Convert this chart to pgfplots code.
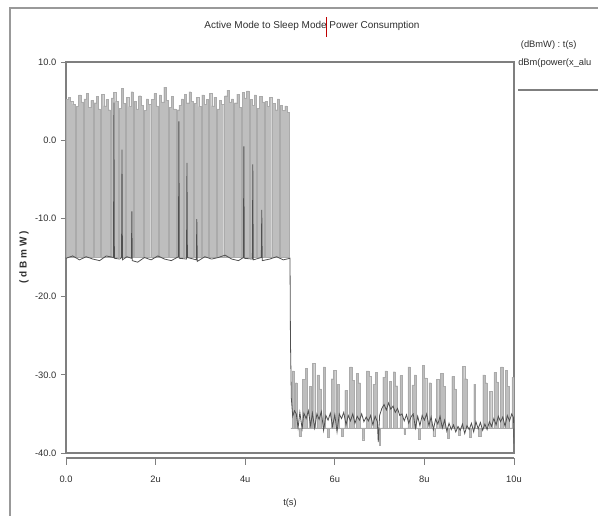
\documentclass[border=0pt]{standalone}
\usepackage{fontspec}
\setmainfont{Liberation Sans}
\usepackage{pgfplots}
\pgfplotsset{compat=1.18}
\definecolor{axgray}{HTML}{7F7F7F}
\definecolor{spike}{HTML}{BEBEBE}
\definecolor{spikeedge}{HTML}{ABABAB}
\definecolor{trace}{HTML}{505050}
\definecolor{txt}{HTML}{2E2E2E}

\begin{document}
\begin{tikzpicture}[font=\fontsize{7}{8}\selectfont, text=txt]
\useasboundingbox (-49.5pt,-47.25pt) rectangle (399pt,339.75pt);

% outer window frame
\draw[gray!80, line width=0.8pt] (-42pt,-47.25pt) -- (-42pt,333.75pt) -- (399pt,333.75pt);

\begin{axis}[
    scale only axis, width=336pt, height=293.25pt,
    at={(0pt,0pt)}, anchor=south west,
    xmin=0, xmax=10, ymin=-40, ymax=10,
    axis line style={axgray, line width=0.8pt},
    xtick=\empty,
    ytick={-40,-30,-20,-10,0,10},
    yticklabels={-40.0,-30.0,-20.0,-10.0,0.0,10.0},
    ytick pos=left, tick align=outside, major tick length=3.75pt,
    tick style={axgray, line width=0.6pt},
    yticklabel style={txt, font=\fontsize{7}{8}\selectfont},
]
% active mode: signal spikes
\addplot[const plot, draw=spikeedge, line width=0.15pt, fill=spike] coordinates {
(0,-15) (0.00,5.2)(0.05,5.5)(0.10,5.0)(0.15,4.6)(0.20,-15)(0.23,4.3)(0.28,5.8)(0.33,4.9)(0.38,-15)
(0.40,5.3)(0.45,6.0)(0.50,4.2)(0.55,5.1)(0.60,-15)(0.62,4.8)(0.67,5.6)(0.72,4.0)(0.77,-15)
(0.79,5.9)(0.84,4.4)(0.89,5.2)(0.94,3.9)(0.99,-15)(1.01,5.4)(1.06,6.1)(1.11,5.0)(1.16,-15)
(1.18,4.1)(1.23,6.6)(1.28,4.7)(1.33,-15)(1.35,5.5)(1.40,4.3)(1.45,6.2)(1.50,-15)
(1.52,5.0)(1.57,4.0)(1.62,5.7)(1.67,4.5)(1.72,-15)(1.74,3.8)(1.79,5.3)(1.84,4.6)(1.89,-15)
(1.91,5.2)(1.96,6.0)(2.01,4.4)(2.06,-15)(2.08,5.8)(2.13,4.9)(2.18,6.8)(2.23,5.1)(2.28,-15)
(2.30,4.2)(2.35,5.6)(2.40,4.0)(2.45,-15)(2.47,3.9)(2.52,4.5)(2.57,5.3)(2.62,-15)
(2.64,5.9)(2.69,4.8)(2.74,6.2)(2.79,5.0)(2.84,-15)(2.86,4.7)(2.91,5.5)(2.96,4.3)(3.01,-15)
(3.03,5.8)(3.08,4.6)(3.13,5.2)(3.18,-15)(3.20,6.0)(3.25,4.4)(3.30,5.5)(3.35,-15)
(3.37,4.0)(3.42,5.1)(3.47,4.6)(3.52,-15)(3.54,5.7)(3.59,6.4)(3.64,4.9)(3.69,5.3)(3.74,-15)
(3.76,4.8)(3.81,5.9)(3.86,4.2)(3.91,-15)(3.93,6.1)(3.98,5.4)(4.03,6.3)(4.08,-15)
(4.10,5.2)(4.15,4.5)(4.20,5.8)(4.25,-15)(4.27,4.1)(4.32,5.6)(4.37,4.9)(4.42,-15)
(4.44,5.0)(4.49,4.3)(4.54,5.5)(4.59,-15)(4.61,4.7)(4.66,3.9)(4.71,5.3)(4.76,-15)
(4.78,4.5)(4.83,3.8)(4.88,4.4)(4.93,3.6)(4.98,-15)(5.00,-15)
} -- cycle;
% sleep mode: signal spikes
\addplot[const plot, draw=spikeedge, line width=0.15pt, fill=spike] coordinates {
(5.02,-36.8)(5.05,-29.5)(5.09,-36.8)(5.12,-31.0)(5.16,-36.8)(5.20,-37.8)(5.24,-36.8)(5.28,-30.6)
(5.34,-29.2)(5.38,-36.8)(5.43,-31.5)(5.47,-36.8)(5.50,-28.5)(5.55,-36.8)(5.60,-30.0)(5.66,-31.8)
(5.70,-36.8)(5.74,-29.0)(5.79,-36.8)(5.83,-38.0)(5.87,-36.8)(5.92,-30.5)(5.97,-29.4)(6.02,-36.8)
(6.06,-31.2)(6.10,-36.8)(6.14,-37.9)(6.18,-36.8)(6.22,-32.0)(6.28,-36.8)(6.33,-29.0)(6.38,-30.7)
(6.43,-36.8)(6.48,-29.8)(6.53,-31.0)(6.57,-36.8)(6.61,-38.3)(6.65,-36.8)(6.70,-29.5)(6.76,-30.2)
(6.80,-36.8)(6.85,-31.2)(6.90,-29.7)(6.95,-36.8)(6.99,-39.0)(7.02,-36.8)(7.07,-30.3)(7.12,-29.5)
(7.17,-36.8)(7.21,-30.8)(7.26,-36.8)(7.30,-29.6)(7.35,-31.4)(7.40,-36.8)(7.45,-30.1)(7.50,-36.8)
(7.54,-37.6)(7.58,-36.8)(7.63,-29.0)(7.68,-36.8)(7.72,-31.3)(7.77,-30.0)(7.82,-36.8)(7.87,-38.2)
(7.91,-36.8)(7.95,-28.8)(8.00,-30.4)(8.05,-36.8)(8.10,-31.0)(8.15,-36.8)(8.19,-37.9)(8.23,-36.8)
(8.27,-30.6)(8.32,-36.8)(8.36,-29.8)(8.41,-31.5)(8.46,-36.8)(8.51,-38.1)(8.56,-36.8)(8.61,-30.2)
(8.66,-31.8)(8.71,-36.8)(8.76,-37.7)(8.80,-36.8)(8.85,-28.9)(8.90,-30.5)(8.95,-36.8)(9.00,-38.0)
(9.05,-36.8)(9.10,-31.2)(9.14,-36.8)(9.20,-37.8)(9.26,-36.8)(9.30,-30.0)(9.35,-31.0)(9.40,-36.8)
(9.45,-32.1)(9.50,-36.8)(9.55,-29.7)(9.60,-30.9)(9.65,-36.8)(9.70,-29.0)(9.75,-36.8)(9.80,-29.4)
(9.85,-31.5)(9.90,-36.8)(9.95,-30.3)(10.00,-36.8)
} -- cycle;
% dark trace
\addplot[trace, line width=0.6pt] coordinates {
(0,-15.1)(0.15,-14.8)(0.3,-15.3)(0.45,-14.9)(0.6,-15.2)(0.75,-15.4)(0.9,-14.8)(1.06,-15.0)
(1.07,4.8)(1.08,-15.1)(1.2,-15.2)(1.24,-15.0)(1.25,-1.2)(1.26,-15.3)(1.36,-14.9)(1.46,-15.1)
(1.47,-9.1)(1.48,-15.4)(1.6,-15.6)(1.75,-15.0)(1.9,-15.3)(2.05,-14.8)(2.2,-15.2)(2.35,-15.4)
(2.51,-14.9)(2.52,2.4)(2.53,-15.1)(2.69,-15.2)(2.70,-2.9)(2.71,-15.0)(2.91,-15.3)(2.92,-10.1)
(2.93,-15.5)(3.1,-14.9)(3.25,-15.2)(3.4,-15.0)(3.55,-14.7)(3.7,-15.2)(3.85,-15.4)(3.96,-15.0)
(3.97,-0.8)(3.98,-15.1)(4.16,-15.2)(4.17,-3.1)(4.18,-15.3)(4.36,-15.0)(4.37,-8.9)(4.38,-15.4)
(4.55,-15.2)(4.7,-14.9)(4.85,-15.3)(5.0,-15.1)(5.01,-25.5)(5.03,-33.0)
(5.06,-35.3)(5.10,-34.6)(5.14,-35.0)(5.18,-36.8)(5.22,-34.8)(5.27,-36.9)(5.31,-34.9)(5.36,-35.6)
(5.41,-34.6)(5.46,-36.5)(5.50,-34.9)(5.55,-36.8)(5.60,-35.0)(5.65,-35.7)(5.70,-34.7)(5.75,-37.1)
(5.80,-35.2)(5.85,-35.8)(5.90,-34.9)(5.95,-36.6)(6.00,-35.1)(6.05,-37.3)(6.10,-35.0)(6.15,-35.6)
(6.20,-34.8)(6.25,-36.4)(6.30,-35.2)(6.35,-35.9)(6.40,-35.0)(6.45,-36.2)(6.50,-35.3)(6.55,-35.8)
(6.60,-35.0)(6.65,-36.0)(6.70,-35.4)(6.75,-35.9)(6.80,-35.2)(6.85,-36.4)(6.90,-35.3)(6.95,-36.0)
(6.97,-38.6)(7.00,-35.2)(7.05,-34.3)(7.10,-33.8)(7.15,-34.5)(7.20,-33.6)(7.25,-34.4)(7.30,-34.0)
(7.35,-34.8)(7.40,-34.3)(7.45,-35.2)(7.50,-35.0)(7.55,-35.9)(7.60,-35.1)(7.65,-36.2)(7.70,-35.4)
(7.75,-35.0)(7.80,-36.8)(7.85,-35.3)(7.90,-36.5)(7.95,-35.2)(8.00,-35.8)(8.05,-35.0)(8.10,-36.5)
(8.15,-35.4)(8.20,-37.0)(8.25,-35.7)(8.30,-36.3)(8.35,-35.3)(8.40,-36.8)(8.45,-35.8)(8.50,-37.2)
(8.55,-36.2)(8.60,-37.0)(8.65,-36.4)(8.70,-37.3)(8.75,-36.6)(8.80,-37.1)(8.85,-36.3)(8.90,-37.5)
(8.95,-36.5)(9.00,-37.0)(9.05,-36.2)(9.10,-37.3)(9.15,-36.0)(9.20,-36.9)(9.25,-36.1)(9.30,-37.1)
(9.35,-36.3)(9.40,-37.0)(9.45,-36.0)(9.50,-36.6)(9.55,-35.6)(9.60,-36.4)(9.65,-35.3)(9.70,-36.0)
(9.75,-35.4)(9.80,-36.6)(9.85,-35.2)(9.90,-35.9)(9.95,-35.0)(9.99,-35.5)(10.0,-38.8)
};
\end{axis}

% separate x axis line below the box
\begin{axis}[
    scale only axis, width=336pt, height=293.25pt,
    at={(0pt,0pt)}, anchor=south west,
    xmin=0, xmax=10, ymin=-40, ymax=10,
    axis x line=bottom, axis y line=none,
    axis x line shift=3.75pt,
    axis line style={axgray, line width=0.8pt, -},
    every outer x axis line/.append style={-},
    xtick={0,2,4,6,8,10},
    xticklabels={0.0,2u,4u,6u,8u,10u},
    tick align=outside, major tick length=5pt,
    tick style={axgray, line width=0.6pt},
    xticklabel style={txt, font=\fontsize{7}{8}\selectfont, yshift=-5pt},
]
\end{axis}

% title, labels, legend
\node[font=\fontsize{7.5}{9}\selectfont] at (184.5pt,320.25pt) {Active Mode to Sleep Mode Power Consumption};
\draw[red!75!black, line width=0.4pt] (195pt,312pt) -- (195pt,327pt);
\node[rotate=90, font=\fontsize{7.5}{9}\bfseries] at (-31.5pt,147pt) {( d B m W )};
\node at (168pt,-37.5pt) {t(s)};
\node[anchor=west, inner sep=0pt] at (341pt,306pt) {(dBmW) : t(s)};
\node[anchor=west, inner sep=0pt] at (339pt,292.5pt) {dBm(power(x\_alu};
\draw[axgray, line width=0.8pt] (339pt,272.25pt) -- (399pt,272.25pt);
\end{tikzpicture}
\end{document}
